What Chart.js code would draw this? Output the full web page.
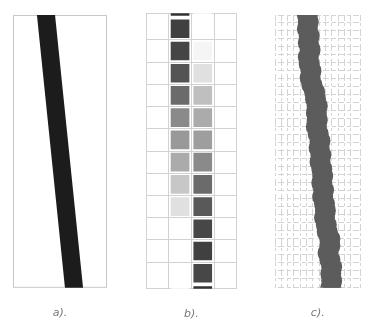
<!DOCTYPE html>
<html lang="en">
<head>
<meta charset="UTF-8">
<title>Line representations</title>
<script src="https://cdn.jsdelivr.net/npm/chart.js"></script>
<style>
  body { margin: 0; background: #fff; width: 371px; height: 324px; overflow: hidden; position: relative; }
  canvas { position: absolute; top: 0; }
  #panelA { left: 0; }
  #panelB { left: 125px; }
  #panelC { left: 250px; }
</style>
</head>
<body>
<canvas id="panelA" width="125" height="324"></canvas>
<canvas id="panelB" width="125" height="324"></canvas>
<canvas id="panelC" width="121" height="324"></canvas>
<script>
// panel labels
const panelLabels = ['a).', 'b).', 'c).'];

// a) continuous line, box units (x 0..100 left->right, y 0..100 bottom->top)
const lineX = [34.5, 65.5];
const lineY = [102, -2];

// b) raster: rows (top partial row = -1, bottom partial row = 12), darkness 0..1
const rasterRows = [-1, 0, 1, 2, 3, 4, 5, 6, 7, 8, 9, 10, 11, 12];
const shadeCol2 = [0.80, 0.75, 0.73, 0.67, 0.58, 0.46, 0.40, 0.33, 0.22, 0.12, 0, 0, 0, 0];
const shadeCol3 = [0, 0, 0.04, 0.12, 0.25, 0.33, 0.38, 0.46, 0.58, 0.65, 0.72, 0.75, 0.72, 0.80];

// c) dark cells along the line, pixel-like units from top-left of the panel
const cellY = [0, 7, 14, 21, 28, 35, 42, 49, 56, 63, 70, 77, 84, 91, 98, 105, 112, 119, 126, 133,
               140, 147, 154, 161, 168, 175, 182, 189, 196, 203, 210, 217, 224, 231, 238, 245, 252, 259, 266, 273];
const cellX = [36, 37, 36, 38, 37, 39, 37, 38, 40, 39, 41, 44, 45, 47, 46, 47, 46, 48, 50, 49,
               51, 50, 52, 53, 52, 54, 53, 55, 56, 55, 57, 58, 61, 61, 59, 61, 63, 62, 63, 62];

const labelTitle = (text) => ({
  display: true,
  text: text,
  color: '#777',
  font: { family: 'DejaVu Sans', size: 11, style: 'italic' },
  padding: { top: 19, bottom: 0 }
});

const boxBorder = {
  id: 'boxBorder',
  beforeDatasetsDraw(chart, args, opts) {
    if (!opts.color) return;
    const { ctx, chartArea: a } = chart;
    ctx.save();
    ctx.strokeStyle = opts.color;
    ctx.lineWidth = 1;
    ctx.strokeRect(a.left + 0.5, a.top + 0.5, a.width - 1, a.height - 1);
    ctx.restore();
  }
};

Chart.defaults.animation = false;
Chart.defaults.events = [];
Chart.defaults.plugins.legend.display = false;
Chart.defaults.plugins.tooltip.enabled = false;

// a)
new Chart(document.getElementById('panelA'), {
  type: 'scatter',
  data: {
    datasets: [{
      data: lineX.map((x, i) => ({ x: x, y: lineY[i] })),
      showLine: true,
      borderColor: '#1c1c1c',
      borderWidth: 18,
      borderCapStyle: 'butt',
      pointRadius: 0,
      clip: 0
    }]
  },
  options: {
    responsive: false,
    devicePixelRatio: 1,
    layout: { padding: { left: 13, right: 18, top: 15, bottom: 4 } },
    scales: {
      x: { min: 0, max: 100, grid: { display: false, drawTicks: false }, ticks: { display: false },
           border: { display: false }, title: labelTitle(panelLabels[0]) },
      y: { display: false, min: 0, max: 100 }
    },
    plugins: { boxBorder: { color: '#c8c8c8' } }
  },
  plugins: [boxBorder]
});

// b)
const shadeColor = (v) => {
  const g = Math.round(255 * (1 - v));
  return `rgb(${g},${g},${g})`;
};
const rasterPoints = [];
const rasterColors = [];
rasterRows.forEach((r, i) => {
  rasterPoints.push({ x: 1.5, y: r + 0.5 });
  rasterColors.push(shadeColor(shadeCol2[i]));
  rasterPoints.push({ x: 2.5, y: r + 0.5 });
  rasterColors.push(shadeColor(shadeCol3[i]));
});

new Chart(document.getElementById('panelB'), {
  type: 'scatter',
  data: {
    datasets: [{
      data: rasterPoints,
      pointStyle: 'rect',
      pointRadius: 13.2,
      pointBorderWidth: 0,
      pointBackgroundColor: rasterColors,
      clip: 0
    }]
  },
  options: {
    responsive: false,
    devicePixelRatio: 1,
    layout: { padding: { left: 21, right: 12, top: 13, bottom: 3 } },
    scales: {
      x: { min: 0, max: 4, ticks: { display: false, stepSize: 1 },
           grid: { color: '#d2d2d2', drawTicks: false }, border: { display: false },
           title: labelTitle(panelLabels[1]) },
      y: { min: -0.2, max: 12.2, reverse: true, ticks: { display: false, stepSize: 1 },
           grid: { color: '#d2d2d2', drawTicks: false }, border: { display: false } }
    }
  }
});

// c)
new Chart(document.getElementById('panelC'), {
  type: 'scatter',
  data: {
    datasets: [{
      data: cellX.map((x, i) => ({ x: x, y: cellY[i] })),
      pointStyle: 'circle',
      pointRadius: 10.5,
      pointBorderWidth: 0,
      pointBackgroundColor: '#5c5c5c',
      clip: 0
    }]
  },
  options: {
    responsive: false,
    devicePixelRatio: 1,
    layout: { padding: { left: 25, right: 1, top: 15, bottom: 4 } },
    scales: {
      x: { min: 0, max: 95, ticks: { display: false, stepSize: 7 },
           grid: { color: '#d4d4d4', drawTicks: false },
           border: { display: false, dash: [7, 2, 3, 3], dashOffset: 1 },
           title: labelTitle(panelLabels[2]) },
      y: { min: 0, max: 273, reverse: true, ticks: { display: false, stepSize: 8 },
           grid: { color: '#d4d4d4', drawTicks: false },
           border: { display: false, dash: [4, 2, 6, 3], dashOffset: 3 } }
    }
  }
});
</script>
</body>
</html>
